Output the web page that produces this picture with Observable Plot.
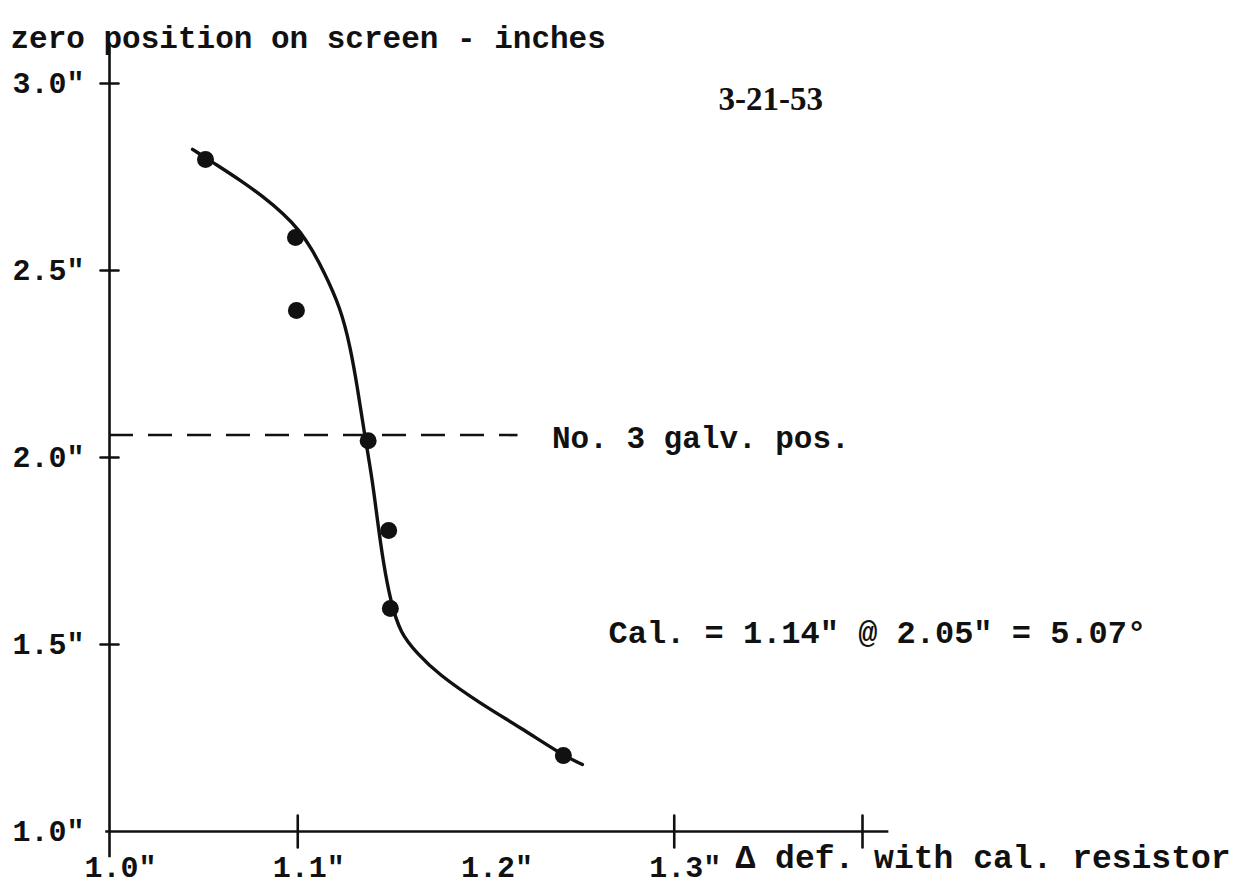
<!DOCTYPE html>
<html>
<head>
<meta charset="utf-8">
<script src="https://cdn.jsdelivr.net/npm/d3@7"></script>
<script src="https://cdn.jsdelivr.net/npm/@observablehq/plot@0.6"></script>
<style>
  html, body { margin: 0; padding: 0; background: #fff; }
</style>
</head>
<body>
<div id="chart"></div>
<script>
// Measured points (Δ def. with cal. resistor, zero position on screen, inches)
const pointX = [1.051, 1.0988, 1.0993, 1.1374, 1.1483, 1.1492, 1.2411];
const pointY = [2.797, 2.588, 2.393, 2.045, 1.805, 1.596, 1.203];

// Hand-drawn fitted curve
const curveX = [1.0441, 1.0441, 1.0574, 1.0696, 1.0818, 1.0924, 1.1004, 1.1073, 1.1136, 1.1227, 1.1280, 1.1317, 1.1349, 1.1397, 1.1423, 1.1455, 1.1492, 1.1545, 1.1636, 1.1742, 1.1970, 1.2183, 1.2411, 1.2512, 1.2512];
const curveY = [2.824, 2.824, 2.781, 2.741, 2.697, 2.652, 2.610, 2.559, 2.500, 2.401, 2.294, 2.187, 2.080, 1.939, 1.832, 1.717, 1.618, 1.529, 1.476, 1.422, 1.342, 1.278, 1.203, 1.179, 1.179];

// Reference line: No. 3 galvanometer position
const galvPos = [2.06];
const galvEnd = [1.217];

// Axes
const xDomain = [1.0, 1.4];
const yDomain = [1.0, 3.0];
const xAxisExtent = [0.998, 1.414];
const yAxisExtent = [0.930, 3.107];
const xTickMarks = [1.1, 1.3, 1.4];
const yTickMarks = [1.5, 2.0, 2.5, 3.0];
const xLabelValues = [1.0, 1.1, 1.2, 1.3];
const xLabelTexts = ['1.0"', '1.1"', '1.2"', '1.3"'];
const yLabelValues = [1.0, 1.5, 2.0, 2.5, 3.0];
const yLabelTexts = ['1.0"', '1.5"', '2.0"', '2.5"', '3.0"'];

// Texts
const yTitle = ["zero position on screen - inches"];
const xTitle = ["Δ def. with cal. resistor"];
const dateText = ["3-21-53"];
const galvText = ["No. 3 galv. pos."];
const calText = ['Cal. = 1.14" @ 2.05" = 5.07°'];

const points = pointX.map((x, i) => ({x, y: pointY[i]}));
const curve = curveX.map((x, i) => ({x, y: curveY[i]}));

const line = {draw(ctx, l) { ctx.moveTo(0, 0); ctx.lineTo(0, -l); }};
const mono = "'Liberation Mono', 'Courier New', monospace";
const ink = "#111";

const plot = Plot.plot({
  width: 1245,
  height: 886,
  marginLeft: 109,
  marginRight: 383,
  marginTop: 83,
  marginBottom: 55,
  style: {fontFamily: mono, fontSize: "31px", background: "#fff", color: ink},
  x: {domain: xDomain, axis: null},
  y: {domain: yDomain, axis: null},
  marks: [
    // axis lines
    Plot.ruleY([yDomain[0]], {x1: xAxisExtent[0], x2: xAxisExtent[1], stroke: ink, strokeWidth: 2.6}),
    Plot.ruleX([xDomain[0]], {y1: yAxisExtent[0], y2: yAxisExtent[1], stroke: ink, strokeWidth: 2.6}),
    // crossing tick marks
    Plot.vector(xTickMarks, {x: d => d, y: yDomain[0], length: 32, rotate: 0, anchor: "middle", shape: line, stroke: ink, strokeWidth: 2.6}),
    Plot.vector(yTickMarks, {x: xDomain[0], y: d => d, length: 18, rotate: 90, anchor: "middle", shape: line, stroke: ink, strokeWidth: 2.6}),
    // tick labels
    Plot.text(xLabelValues, {x: d => d, y: yDomain[0], text: (d, i) => xLabelTexts[i], dx: 11, dy: 36, fontSize: 30, fontWeight: "bold", fill: ink}),
    Plot.text(yLabelValues, {x: xDomain[0], y: d => d, text: (d, i) => yLabelTexts[i], dx: -25, textAnchor: "end", fontSize: 30, fontWeight: "bold", fill: ink}),
    // dashed galvanometer line
    Plot.ruleY(galvPos, {x1: xDomain[0], x2: galvEnd[0], stroke: ink, strokeWidth: 2.6, strokeDasharray: "24,15"}),
    // fitted curve
    Plot.line(curve, {x: "x", y: "y", curve: "basis", stroke: ink, strokeWidth: 3.4}),
    // points
    Plot.dot(points, {x: "x", y: "y", r: 8.5, fill: ink}),
    // annotations
    Plot.text(galvText, {x: galvEnd[0], y: galvPos[0], dx: 34, dy: 3, textAnchor: "start", fontWeight: "bold", fill: ink}),
    Plot.text(calText, {frameAnchor: "bottom-left", dx: 499, dy: -189, textAnchor: "start", fontWeight: "bold", fill: ink, fontSize: 32}),
    Plot.text(dateText, {frameAnchor: "top-right", dx: -144, dy: 3, textAnchor: "start", fontFamily: "'Liberation Serif', serif", fontWeight: "bold", fontSize: 33, fill: ink}),
    Plot.text(yTitle, {frameAnchor: "top-left", dx: -99, dy: -58, textAnchor: "start", fontWeight: "bold", fill: ink}),
    Plot.text(xTitle, {frameAnchor: "bottom-right", dx: -127, dy: 36, textAnchor: "start", fontWeight: "bold", fill: ink, fontSize: 33})
  ]
});
document.getElementById("chart").appendChild(plot);
</script>
</body>
</html>
